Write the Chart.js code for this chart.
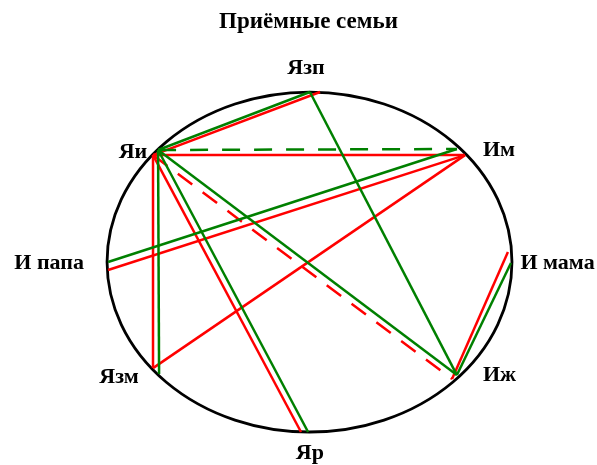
<!DOCTYPE html>
<html>
<head>
<meta charset="utf-8">
<script src="https://cdn.jsdelivr.net/npm/chart.js@4"></script>
<style>
  html, body { margin: 0; padding: 0; background: #fff; }
  #wrap { width: 597px; height: 465px; }
</style>
</head>
<body>
<div id="wrap"><canvas id="chart"></canvas></div>
<script>
// nodes in ellipse units (ellipse = unit circle, y up)
let nodeNames = ["Яи", "Язп", "Им", "И папа", "И мама", "Язм", "Иж", "Яр"];
// where the red lines meet the node
let redX   = [-0.773, 0.052, 0.768, -0.995, 0.980, -0.773, 0.704, -0.042];
let redY   = [ 0.629, 1.000, 0.629, -0.047, 0.059, -0.624, -0.688, -1.000];
// where the green lines meet the node
let greenX = [-0.748, 0.002, 0.728, -0.995, 0.995, -0.743, 0.728, -0.007];
let greenY = [ 0.659, 1.000, 0.665,  0.000, -0.006, -0.659, -0.665, -1.000];
// label centres
let labelX = [-0.872, -0.017, 0.936, -1.286, 1.225, -0.941, 0.938, 0.002];
let labelY = [ 0.647,  1.141, 0.659, -0.006, -0.006, -0.676, -0.665, -1.124];

// links: [from, to]
let redLinks = [["Яи", "Язп"], ["Яи", "Им"], ["Яи", "Язм"], ["Яи", "Яр"],
                ["Им", "И папа"], ["Им", "Язм"], ["Иж", "И мама"]];
let redDashedLinks = [["Яи", "Иж"]];
let greenLinks = [["Яи", "Язп"], ["Яи", "Язм"], ["Яи", "Яр"], ["Яи", "Иж"],
                  ["Язп", "Иж"], ["Им", "И папа"], ["Иж", "И мама"]];
let greenDashedLinks = [["Яи", "Им"]];

const RED = "#ff0000";
const GREEN = "#008000";
const FONT = "'Liberation Serif', 'Times New Roman', serif";

function point(name, color) {
    let i = nodeNames.indexOf(name);
    if (color === RED) {
        return {x: redX[i], y: redY[i]};
    }
    return {x: greenX[i], y: greenY[i]};
}

function makeDatasets(links, color, dash) {
    return links.map(function (l) {
        return {
            data: [point(l[0], color), point(l[1], color)],
            showLine: true,
            borderColor: color,
            backgroundColor: color,
            borderWidth: 2.5,
            borderDash: dash,
            pointRadius: 0,
            fill: false
        };
    });
}

let datasets = []
    .concat(makeDatasets(greenLinks, GREEN, []))
    .concat(makeDatasets(greenDashedLinks, GREEN, [18, 14]))
    .concat(makeDatasets(redLinks, RED, []))
    .concat(makeDatasets(redDashedLinks, RED, [18, 13]));

const ellipsePlugin = {
    id: "ellipse",
    beforeDatasetsDraw(chart) {
        let ctx = chart.ctx;
        let xs = chart.scales.x, ys = chart.scales.y;
        let cx = xs.getPixelForValue(0), cy = ys.getPixelForValue(0);
        let rx = xs.getPixelForValue(1) - cx;
        let ry = cy - ys.getPixelForValue(1);
        ctx.save();
        ctx.beginPath();
        ctx.ellipse(cx, cy, rx, ry, 0, 0, Math.PI * 2);
        ctx.lineWidth = 2.8;
        ctx.strokeStyle = "#000";
        ctx.stroke();
        ctx.restore();
    }
};

const labelPlugin = {
    id: "nodeLabels",
    afterDatasetsDraw(chart) {
        let ctx = chart.ctx;
        let xs = chart.scales.x, ys = chart.scales.y;
        ctx.save();
        ctx.font = "bold 22px " + FONT;
        ctx.fillStyle = "#000";
        ctx.textAlign = "center";
        ctx.textBaseline = "middle";
        for (let i = 0; i < nodeNames.length; i++) {
            ctx.fillText(nodeNames[i], xs.getPixelForValue(labelX[i]), ys.getPixelForValue(labelY[i]));
        }
        ctx.restore();
    }
};

new Chart(document.getElementById("chart").getContext("2d"), {
    type: "scatter",
    data: {datasets: datasets},
    options: {
        responsive: true,
        maintainAspectRatio: false,
        animation: false,
        layout: {padding: {left: 20, right: 0, top: 0, bottom: 0}},
        plugins: {
            legend: {display: false},
            tooltip: {enabled: false},
            title: {
                display: true,
                text: "Приёмные семьи",
                color: "#000",
                font: {family: FONT, size: 23, weight: "bold"},
                padding: {top: 8, bottom: 0}
            }
        },
        scales: {
            x: {type: "linear", min: -1.430, max: 1.420, display: false},
            y: {type: "linear", min: -1.194, max: 1.332, display: false}
        }
    },
    plugins: [ellipsePlugin, labelPlugin]
});
</script>
</body>
</html>
